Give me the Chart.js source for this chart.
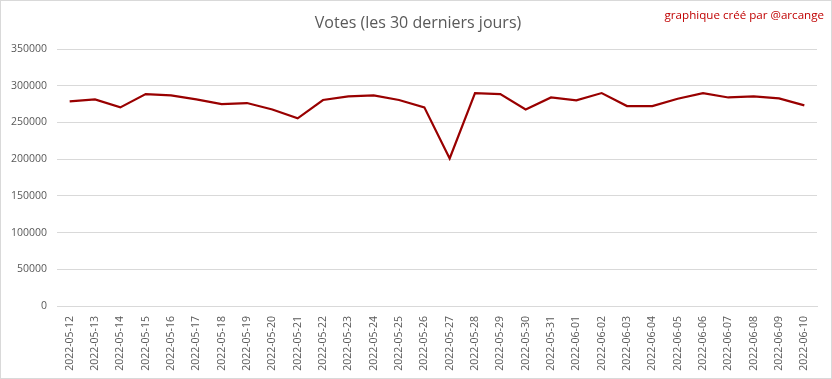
<!DOCTYPE html>
<html>
<head>
<meta charset="utf-8">
<script src="https://cdn.jsdelivr.net/npm/chart.js@4"></script>
<style>
  html, body { margin: 0; padding: 0; background: #fff; }
  #wrap { position: relative; width: 832px; height: 379px; box-sizing: border-box; border: 1px solid #d9d9d9; }
</style>
</head>
<body>
<div id="wrap"><canvas id="lineChartVotes"></canvas></div>
<script>
const dates = [
    '2022-05-12', '2022-05-13', '2022-05-14', '2022-05-15', '2022-05-16', '2022-05-17',
    '2022-05-18', '2022-05-19', '2022-05-20', '2022-05-21', '2022-05-22', '2022-05-23',
    '2022-05-24', '2022-05-25', '2022-05-26', '2022-05-27', '2022-05-28', '2022-05-29',
    '2022-05-30', '2022-05-31', '2022-06-01', '2022-06-02', '2022-06-03', '2022-06-04',
    '2022-06-05', '2022-06-06', '2022-06-07', '2022-06-08', '2022-06-09', '2022-06-10'
];
const votes = [
    278600, 281400, 270500, 288600, 286800, 281400,
    275000, 276400, 267700, 255500, 280500, 285500,
    286800, 280500, 270500, 201000, 290000, 288600,
    267700, 284000, 280000, 290000, 272300, 272300,
    282300, 290000, 284000, 285500, 282700, 273200
];
const titleText = 'Votes (les 30 derniers jours)';
const creditText = 'graphique créé par @arcange';

const textColor = '#595959';
const lineColor = '#990000';
const baseFont = '"Open Sans", sans-serif';

// titre + signature dessinés à la main
const headerPlugin = {
    id: 'header',
    afterDraw(chart) {
        const ctx = chart.ctx;
        ctx.save();
        ctx.textBaseline = 'middle';
        ctx.fillStyle = textColor;
        ctx.font = '16px ' + baseFont;
        ctx.textAlign = 'center';
        ctx.fillText(titleText, 417, 22);
        ctx.fillStyle = '#c00000';
        ctx.font = '11.6px ' + baseFont;
        ctx.textAlign = 'right';
        ctx.fillText(creditText, 823, 15);
        ctx.restore();
    }
};

const ctx = document.getElementById('lineChartVotes').getContext('2d');
new Chart(ctx, {
    type: 'line',
    data: {
        labels: dates,
        datasets: [{
            data: votes,
            borderColor: lineColor,
            backgroundColor: lineColor,
            borderWidth: 2.2,
            tension: 0,
            pointRadius: 0,
            fill: false
        }]
    },
    options: {
        responsive: true,
        maintainAspectRatio: false,
        animation: false,
        events: [],
        layout: { padding: { left: 0, right: 14, top: 48, bottom: 0 } },
        plugins: { legend: { display: false }, tooltip: { enabled: false } },
        scales: {
            x: {
                offset: true,
                grid: { display: false },
                border: { color: '#d9d9d9' },
                ticks: {
                    color: textColor,
                    font: { family: baseFont, size: 10.5 },
                    maxRotation: 90,
                    minRotation: 90,
                    autoSkip: false,
                    padding: 2
                },
                afterFit(axis) { axis.height = 72; }
            },
            y: {
                min: 0,
                max: 350000,
                grid: { color: '#d9d9d9', drawTicks: false },
                border: { display: false },
                ticks: {
                    stepSize: 50000,
                    color: textColor,
                    font: { family: baseFont, size: 10.5 },
                    padding: 10,
                    callback: v => String(v)
                },
                afterFit(axis) { axis.width = 56; }
            }
        }
    },
    plugins: [headerPlugin]
});
</script>
</body>
</html>
